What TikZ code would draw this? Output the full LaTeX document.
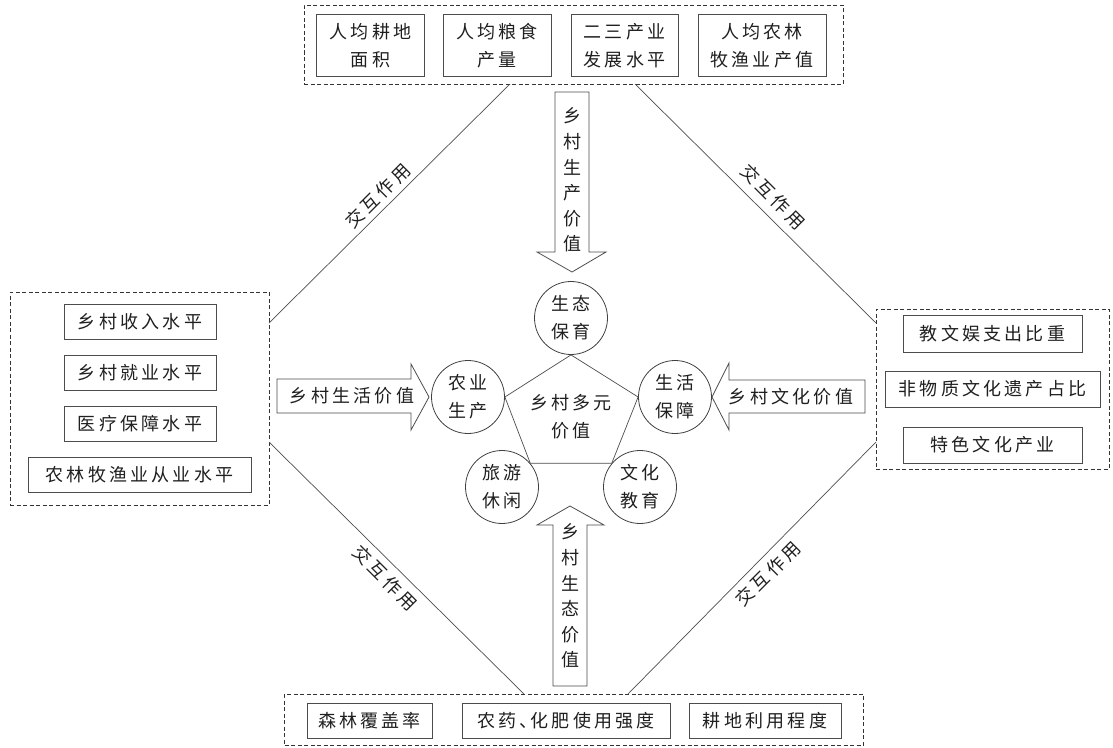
\documentclass[tikz,border=0pt]{standalone}
\usepackage{fontspec}
\setmainfont{Noto Sans CJK SC}[LetterSpace=18]
\begin{document}
\begin{tikzpicture}[x=1pt,y=-1pt,
  every node/.style={text=black!88,font=\fontsize{18}{28}\selectfont},
  ib/.style={draw=black!70,line width=0.8pt,inner sep=0pt,align=center},
  grp/.style={draw=black!80,line width=1pt,dash pattern=on 4pt off 2.5pt,inner sep=0pt},
  circ/.style={draw=black!75,line width=0.8pt,circle,minimum size=73pt,inner sep=0pt,align=center},
  conn/.style={draw=black!70,line width=0.7pt},
  arr/.style={draw=black!70,line width=0.8pt,fill=white,line join=miter},
  vtext/.style={align=center,font=\fontsize{18}{25.6}\selectfont},
  lab/.style={font=\fontsize{18}{22}\selectfont}]
\useasboundingbox (0,0) rectangle (1113,747);
% group boxes
\node[grp,minimum width=539pt,minimum height=79pt] (T) at (573.5,44.5) {};
\node[grp,minimum width=259pt,minimum height=213pt] (L) at (139.5,398.5) {};
\node[grp,minimum width=233pt,minimum height=160pt] (R) at (992.5,389) {};
\node[grp,minimum width=579pt,minimum height=51pt] (B) at (574,719.5) {};
% top boxes
\node[ib,minimum width=108pt,minimum height=62pt] (t1) at (370.5,45.5) {人均耕地\\面积};
\node[ib,minimum width=108pt,minimum height=62pt] (t2) at (497,45.5) {人均粮食\\产量};
\node[ib,minimum width=107pt,minimum height=62pt] (t3) at (624.5,45.5) {二三产业\\发展水平};
\node[ib,minimum width=128pt,minimum height=62pt] (t4) at (762,45.5) {人均农林\\牧渔业产值};
% left boxes
\node[ib,minimum width=152pt,minimum height=35pt] (l1) at (140,321.5) {乡村收入水平};
\node[ib,minimum width=152pt,minimum height=35pt] (l2) at (140,372.5) {乡村就业水平};
\node[ib,minimum width=152pt,minimum height=35pt] (l3) at (140,423.5) {医疗保障水平};
\node[ib,minimum width=223pt,minimum height=35pt] (l4) at (139.5,474.5) {农林牧渔业从业水平};
% right boxes
\node[ib,minimum width=179pt,minimum height=37pt] (r1) at (992.5,333.5) {教文娱支出比重};
\node[ib,minimum width=215pt,minimum height=36pt] (r2) at (992.5,389) {非物质文化遗产占比};
\node[ib,minimum width=179pt,minimum height=36pt] (r3) at (992.5,445) {特色文化产业};
% bottom boxes
\node[ib,minimum width=125pt,minimum height=35pt] (b1) at (369.5,720.5) {森林覆盖率};
\node[ib,minimum width=208pt,minimum height=35pt] (b2) at (566,720.5) {农药、\kern-7pt 化肥使用强度};
\node[ib,minimum width=152pt,minimum height=35pt] (b3) at (765,720.5) {耕地利用程度};
% diagonal connectors
\coordinate (tA) at (510,84);
\coordinate (tB) at (635,84);
\coordinate (lA) at (269,323);
\coordinate (lB) at (269,442);
\coordinate (rA) at (876,323);
\coordinate (rB) at (876,442);
\coordinate (bA) at (524,694);
\coordinate (bB) at (628,694);
\draw[conn] (tA) -- (lA);
\draw[conn] (tB) -- (rA);
\draw[conn] (lB) -- (bA);
\draw[conn] (rB) -- (bB);
\node[lab,rotate=45] (i1) at (378,196) {交互作用};
\node[lab,rotate=-45] (i2) at (773,197) {交互作用};
\node[lab,rotate=-45] (i3) at (385,578) {交互作用};
\node[lab,rotate=45] (i4) at (768,574) {交互作用};
% circles
\node[circ] (c1) at (571,318) {生态\\保育};
\node[circ] (c2) at (468,397) {农业\\生产};
\node[circ] (c3) at (675,397) {生活\\保障};
\node[circ] (c4) at (502,487) {旅游\\休闲};
\node[circ] (c5) at (640,487) {文化\\教育};
\draw[conn] (c1.south) -- (c3.west) -- (c5.140) -- (c4.40) -- (c2.east) -- cycle;
\node[align=center] (ctr) at (571,417) {乡村多元\\价值};
% arrows
\draw[arr] (555,92) -- (589,92) -- (589,252) -- (606,252) -- (572,272) -- (537,252) -- (555,252) -- cycle;
\node[vtext] (a1) at (572,180) {乡\\村\\生\\产\\价\\值};
\draw[arr] (553,686) -- (587,686) -- (587,525) -- (604,525) -- (570,506) -- (537,525) -- (553,525) -- cycle;
\node[vtext] (a2) at (570,596) {乡\\村\\生\\态\\价\\值};
\draw[arr] (277,379) -- (411,379) -- (411,364) -- (429,397) -- (411,430) -- (411,413) -- (277,413) -- cycle;
\node (a3) at (352,396) {乡村生活价值};
\draw[arr] (865,380) -- (729,380) -- (729,363) -- (712,397) -- (729,430) -- (729,413) -- (865,413) -- cycle;
\node (a4) at (791,397) {乡村文化价值};
\end{tikzpicture}
\end{document}
